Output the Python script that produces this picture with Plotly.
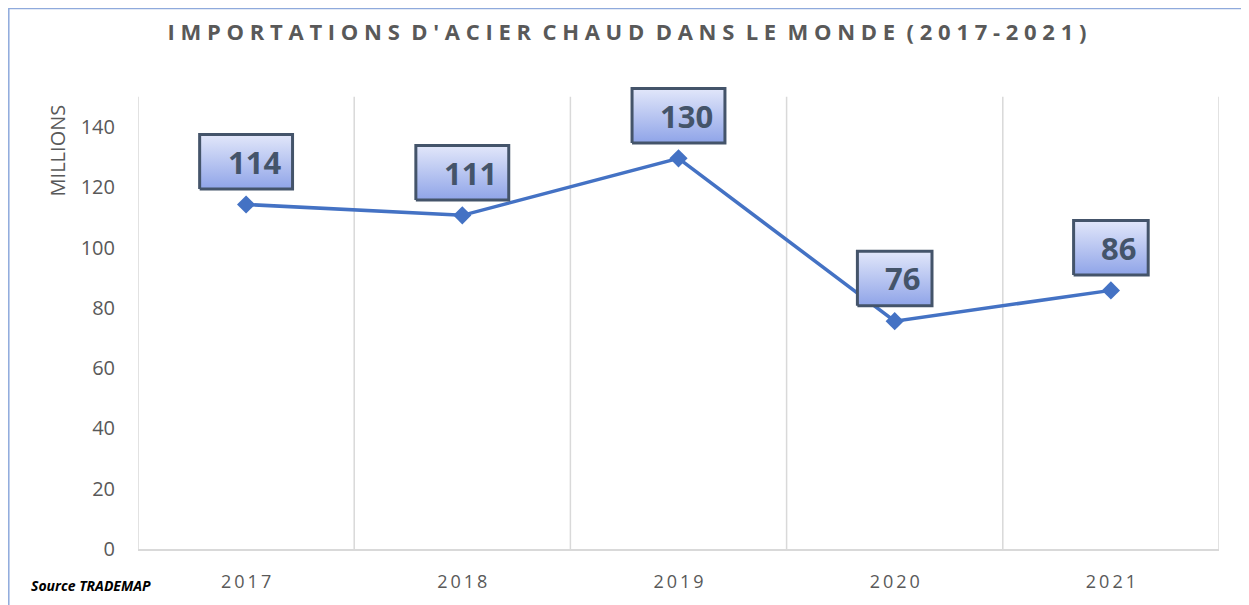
import plotly.graph_objects as go

# ---- data ----
years = ["2017", "2018", "2019", "2020", "2021"]
values = [114.3, 110.7, 129.6, 75.6, 85.8]
labels = ["114", "111", "130", "76", "86"]
title_text = "IMPORTATIONS D'ACIER CHAUD DANS LE MONDE (2017-2021)"
y_title = "MILLIONS"
source_text = "Source TRADEMAP"
y_ticks = [0, 20, 40, 60, 80, 100, 120, 140]
grid_top_value = 150

# ---- geometry (window pixel coordinates; page body adds an 8px offset) ----
OX, OY = 8, 8
WIN_W, WIN_H = 1249, 605
FW, FH = WIN_W - OX, WIN_H - OY
PL, PR, PT, PB = 138, 1219, 82, 553          # plot area in window px
GRID_TOP_PX = 97                               # y px of value grid_top_value
plot_w = PR - PL
plot_h = PB - PT
y_unit_px = (PB - GRID_TOP_PX) / grid_top_value
y_max = plot_h / y_unit_px
x_unit_px = plot_w / len(years)

def px_x(X):
    return (X - PL) / plot_w

def px_y(Y):
    return (PB - Y) / plot_h

NB = "\u00a0"
def spaced(s, sep=NB):
    return sep.join(list(s))

def spaced_title(s):
    return (NB + " ").join(spaced(w) for w in s.split(" "))

xs = list(range(len(years)))

fig = go.Figure()

LINE_COLOR = "#4472C4"
fig.add_trace(go.Scatter(
    x=xs, y=values, mode="lines+markers",
    line=dict(color=LINE_COLOR, width=3.5),
    marker=dict(symbol="diamond", size=14, color=LINE_COLOR),
    hoverinfo="skip", showlegend=False, cliponaxis=False,
))

# label boxes (gradient filled), placed relative to each data point
box_h_px = 55
off_px = 43
for xi, v, lab in zip(xs, values, labels):
    w_px = 38 + 18.3 * len(lab)
    hw = w_px / 2 / x_unit_px
    cy = v + off_px / y_unit_px
    hh = box_h_px / 2 / y_unit_px
    bx = [xi - hw, xi + hw, xi + hw, xi - hw, xi - hw]
    by = [cy - hh, cy - hh, cy + hh, cy + hh, cy - hh]
    fig.add_trace(go.Scatter(
        x=bx, y=by, mode="lines", fill="toself",
        fillgradient=dict(type="vertical",
                          colorscale=[[0, "#8FA4E8"], [1, "#E2E7FA"]]),
        line=dict(color="#44546A", width=3),
        hoverinfo="skip", showlegend=False,
    ))
    fig.add_annotation(
        x=xi, y=cy, text=f"<b>{lab}</b>", showarrow=False,
        xshift=8, font=dict(family="Open Sans", size=31, color="#44546A"),
        xanchor="center", yanchor="middle",
    )

fig.update_layout(
    width=FW, height=FH,
    margin=dict(l=PL - OX, r=WIN_W - PR, t=PT - OY, b=WIN_H - PB),
    paper_bgcolor="white", plot_bgcolor="white",
    font=dict(family="Open Sans", color="#595959"),
    title=dict(
        text=f"<b>{spaced_title(title_text)}</b>",
        x=px_x(627), xanchor="center", y=1 - (32 - OY) / FH, yanchor="middle",
        yref="container", xref="paper",
        font=dict(family="Open Sans", size=22, color="#595959"),
    ),
    xaxis=dict(
        range=[-0.5, len(years) - 0.5],
        tickmode="array", tickvals=xs, ticktext=[spaced(y, "\u2009") for y in years],
        showgrid=False, zeroline=False,
        showline=True, linecolor="#D9D9D9", linewidth=1.5,
        ticks="", ticklabelstandoff=16,
        tickfont=dict(size=18, color="#595959"),
        fixedrange=True,
    ),
    yaxis=dict(
        range=[0, y_max], tickmode="array", tickvals=y_ticks,
        showgrid=False, zeroline=False, showline=False,
        ticks="", ticklabelstandoff=22,
        tickfont=dict(size=20, color="#595959"),
        fixedrange=True,
    ),
)

# vertical gridlines at category boundaries
for i in range(len(years) + 1):
    fig.add_shape(type="line", xref="x", yref="y", x0=i - 0.5, x1=i - 0.5,
                  y0=0, y1=grid_top_value,
                  line=dict(color="#D9D9D9", width=1.5), layer="below")

# y-axis title as annotation
fig.add_annotation(
    xref="paper", yref="paper",
    x=px_x(57), y=px_y(151),
    text=y_title, textangle=-90, showarrow=False,
    xanchor="center", yanchor="middle",
    font=dict(family="Open Sans", size=20, color="#595959"),
)

# source note
fig.add_annotation(
    xref="paper", yref="paper",
    x=px_x(29), y=px_y(590),
    text=f"<b><i>{source_text}</i></b>", showarrow=False,
    xanchor="left", yanchor="middle",
    font=dict(family="Open Sans", size=14, color="#000000"),
)

# chart border (light blue)
fig.add_shape(type="rect", xref="paper", yref="paper",
              x0=px_x(8.8), x1=px_x(1247.5),
              y0=px_y(640), y1=px_y(7.8),
              line=dict(color="#8FAADC", width=1.5), fillcolor="rgba(0,0,0,0)",
              layer="below")

fig.write_html("out.html")
